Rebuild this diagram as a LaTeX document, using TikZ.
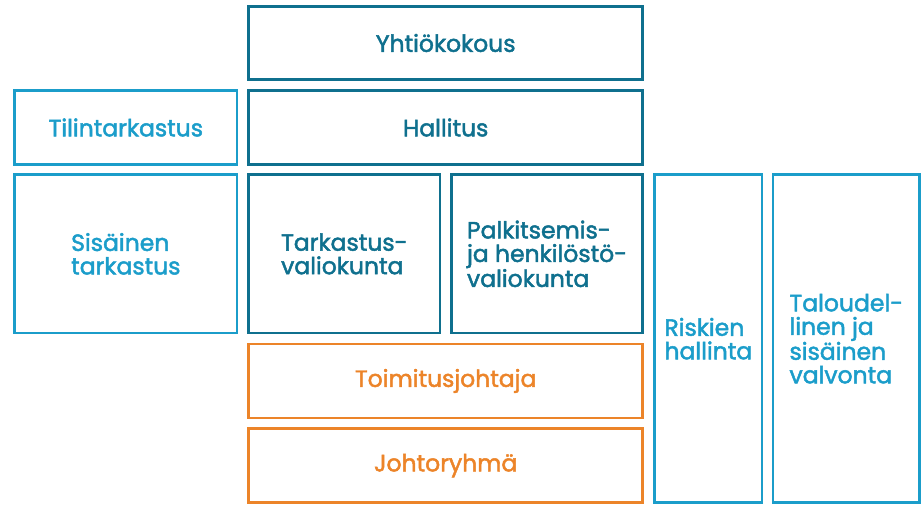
\documentclass[tikz,border=0pt]{standalone}
\usepackage{fontspec}
\setmainfont{Poppins}[FakeBold=2]
\definecolor{dteal}{HTML}{0F708E}
\definecolor{lblue}{HTML}{1B9DCA}
\definecolor{orng}{HTML}{EC8429}
\begin{document}
\begin{tikzpicture}[x=1pt,y=-1pt,
  box/.style={draw, line width=2.6pt, align=left, inner sep=0pt,
    font=\fontsize{23.5}{23.5}\selectfont},
  darkbox/.style={box, draw=dteal, text=dteal},
  lightbox/.style={box, draw=lblue, text=lblue},
  orangebox/.style={box, draw=orng, text=orng}]
\useasboundingbox (0,0) rectangle (923,505);
\node[darkbox, minimum width=394pt, minimum height=73.4pt] (yk) at (445.7,43) {Yhtiökokous};
\node[darkbox, minimum width=394pt, minimum height=73.6pt] (hal) at (445.7,127.5) {Hallitus};
\node[lightbox, minimum width=222.3pt, minimum height=73.6pt] (tt) at (125.85,127.5) {Tilintarkastus};
\node[lightbox, minimum width=222.3pt, minimum height=158.3pt] (st) at (125.85,253.85) {Sisäinen\\tarkastus};
\node[darkbox, minimum width=191.3pt, minimum height=158.3pt] (tv) at (344.35,253.85) {Tarkastus-\\valiokunta};
\node[darkbox, minimum width=191.2pt, minimum height=158.3pt] (ph) at (547.1,253.85) {Palkitsemis-\\ja henkilöstö-\\valiokunta};
\node[orangebox, minimum width=394pt, minimum height=74pt] (tj) at (445.7,381) {Toimitusjohtaja};
\node[orangebox, minimum width=394pt, minimum height=74pt] (jr) at (445.7,465.7) {Johtoryhmä};
\node[lightbox, minimum width=107.3pt, minimum height=328pt] (rh) at (708.35,338.7) {Riskien\\hallinta};
\node[lightbox, minimum width=146.7pt, minimum height=328pt] (ts) at (846.35,338.7) {Taloudel-\\linen ja\\sisäinen\\valvonta};
\end{tikzpicture}
\end{document}
